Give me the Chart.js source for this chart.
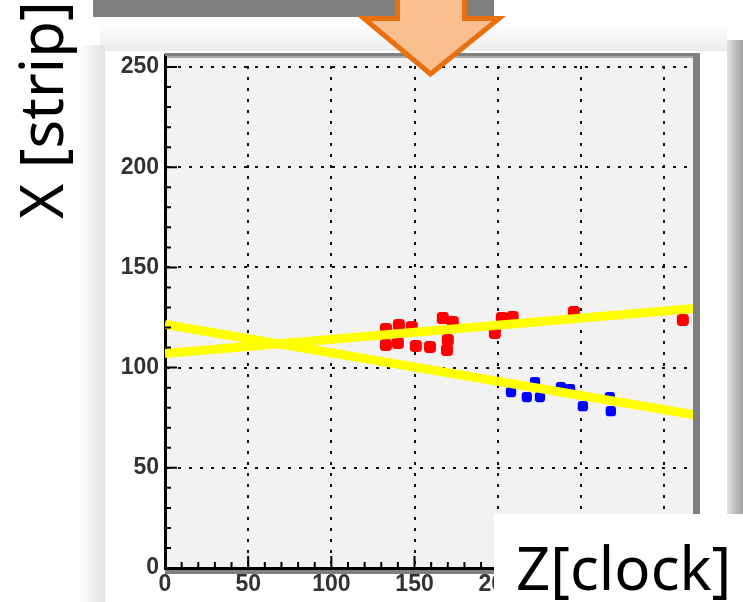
<!DOCTYPE html>
<html>
<head>
<meta charset="utf-8">
<script src="https://cdn.jsdelivr.net/npm/chart.js@4/dist/chart.umd.min.js"></script>
<style>
  html, body { margin: 0; padding: 0; width: 743px; height: 602px; overflow: hidden; background: #fff; }
  .abs { position: absolute; }
  #bar { left: 93px; top: 0; width: 401px; height: 17px; background: #7f7f7f; }
  #shadowTop { left: 100px; top: 22px; width: 627px; height: 29px; background: linear-gradient(to bottom, #fff, #ececec); }
  #shadowLeft { left: 77px; top: 45px; width: 28px; height: 557px; background: linear-gradient(to right, #fff, #e4e4e4); }
  #shadowRight { left: 727px; top: 40px; width: 16px; height: 562px; background: linear-gradient(to right, #e2e2e2, #a0a0a0); }
  #panel { left: 105px; top: 51px; width: 622px; height: 551px; background: #fff; }
  #covidCanvas { position: absolute; left: 0; top: 0; z-index: 2; }
  #ylabel { left: 0; top: 0; font-family: "Noto Sans"; font-size: 60px; line-height: 60px; white-space: nowrap;
            transform-origin: 0 0; transform: translate(10px, 219px) rotate(-90deg); color: #000; }
  #zbox { left: 494px; top: 514px; width: 249px; height: 88px; background: #fff; z-index: 3; }
  #zlabel { left: 516px; top: 537px; font-family: "Noto Sans"; font-size: 60px; line-height: 60px; white-space: nowrap; z-index: 4; color: #000; }
  #arrow { left: 0; top: 0; z-index: 5; }
</style>
</head>
<body>
<div class="abs" id="shadowTop"></div>
<div class="abs" id="shadowLeft"></div>
<div class="abs" id="shadowRight"></div>
<div class="abs" id="panel"></div>
<div class="abs" id="bar"></div>
<div class="abs" id="ylabel">X [strip]</div>
<canvas id="covidCanvas" width="743" height="602"></canvas>
<div class="abs" id="zbox"></div>
<div class="abs" id="zlabel">Z[clock]</div>
<svg class="abs" id="arrow" width="743" height="100">
  <polygon points="397.5,-5 464.5,-5 464.5,18.5 499,18.5 430.5,74 364,18.5 397.5,18.5"
           fill="#f9bf8f" stroke="#e9700f" stroke-width="5" stroke-linejoin="miter"/>
</svg>

<script>
// points (Z clock, X strip)
const redX = [132.8, 140.6, 148.4, 132.8, 140.0, 150.8, 159.3, 167.0, 173.0, 170.0, 169.5, 198.3, 202.5, 209.0, 245.8, 311.3];
const redY = [119.3, 121.3, 120.3, 111.3, 112.3, 110.8, 110.3, 124.7, 122.8, 113.8, 108.8, 117.3, 124.8, 125.2, 127.7, 123.8];
const blueX = [208.0, 222.4, 217.5, 225.4, 238.0, 243.5, 251.2, 267.4, 268.0];
const blueY = [87.8, 92.8, 85.3, 85.3, 90.3, 89.3, 80.8, 85.3, 78.3];

// straight-line fits
const fitX = [0, 318];
const fitUpY = [107, 129.5];
const fitDownY = [121.5, 76.5];

const xTicks = [0, 50, 100, 150, 200, 250, 300];
const yTicks = [0, 50, 100, 150, 200, 250];

const toPts = (xs, ys) => xs.map((x, i) => ({ x: x, y: ys[i] }));

// ROOT-like frame: grey panel, inner ticks, shadowed border
const rootFrame = {
  id: 'rootFrame',
  beforeDraw(chart) {
    const a = chart.chartArea, c = chart.ctx;
    c.save();
    c.fillStyle = '#f2f2f2';
    c.fillRect(a.left, a.top, a.right - a.left, a.bottom - a.top);
    c.restore();
  },
  afterDraw(chart) {
    const a = chart.chartArea, c = chart.ctx;
    const xs = chart.scales.x, ys = chart.scales.y;
    c.save();
    c.fillStyle = '#7f7f7f';
    c.fillRect(a.left, a.top - 2, a.right - a.left + 6, 3);
    c.fillStyle = '#a8a8a8';
    c.fillRect(a.left + 2, a.top + 1, a.right - a.left - 2, 2);
    c.fillStyle = '#7f7f7f';
    c.fillRect(a.right - 1, a.top - 2, 7, a.bottom - a.top + 7);
    c.fillRect(a.left, a.bottom + 2, a.right - a.left + 6, 4);
    c.strokeStyle = '#000';
    c.lineWidth = 2;
    c.beginPath();
    for (let v = 0; v <= 310; v += 10) {
      const px = xs.getPixelForValue(v);
      c.moveTo(px, a.bottom);
      c.lineTo(px, a.bottom - (v % 50 === 0 ? 12 : 6));
    }
    for (let v = 0; v <= 250; v += 10) {
      const py = ys.getPixelForValue(v);
      c.moveTo(a.left, py);
      c.lineTo(a.left + (v % 50 === 0 ? 12 : 6), py);
    }
    c.stroke();
    c.restore();
  }
};

const tickFont = { family: '"Liberation Sans"', size: 23, weight: 'bold' };

new Chart(document.getElementById('covidCanvas').getContext('2d'), {
  type: 'scatter',
  data: {
    datasets: [{
      label: 'red',
      data: toPts(redX, redY),
      backgroundColor: '#ff0000',
      borderWidth: 0,
      pointStyle: 'rectRounded',
      pointRadius: 7,
      order: 2
    }, {
      label: 'blue',
      data: toPts(blueX, blueY),
      backgroundColor: '#0000ff',
      borderWidth: 0,
      pointStyle: 'rectRounded',
      pointRadius: 6,
      order: 2
    }, {
      label: 'fit up',
      type: 'line',
      data: toPts(fitX, fitUpY),
      borderColor: '#ffff00',
      borderWidth: 9,
      pointRadius: 0,
      fill: false,
      order: 1
    }, {
      label: 'fit down',
      type: 'line',
      data: toPts(fitX, fitDownY),
      borderColor: '#ffff00',
      borderWidth: 9,
      pointRadius: 0,
      fill: false,
      order: 1
    }]
  },
  options: {
    responsive: false,
    animation: false,
    devicePixelRatio: 1,
    layout: { padding: { left: 100, top: 55, right: 49, bottom: 0 } },
    plugins: { legend: { display: false }, tooltip: { enabled: false } },
    scales: {
      x: {
        type: 'linear',
        min: 0,
        max: 318,
        afterFit: (axis) => { axis.height = 34; },
        afterBuildTicks: (axis) => { axis.ticks = xTicks.map(v => ({ value: v })); },
        ticks: { font: tickFont, color: '#333', padding: 3, maxRotation: 0, autoSkip: false },
        grid: { color: '#111', lineWidth: 2, drawTicks: false },
        border: { color: '#000', width: 3, dash: [3, 8] }
      },
      y: {
        type: 'linear',
        min: 0,
        max: 256,
        afterFit: (axis) => { axis.width = 65; },
        afterBuildTicks: (axis) => { axis.ticks = yTicks.map(v => ({ value: v })); },
        ticks: { font: tickFont, color: '#333', padding: 6, autoSkip: false },
        grid: { color: '#111', lineWidth: 2, drawTicks: false },
        border: { color: '#000', width: 3, dash: [3, 8] }
      }
    }
  },
  plugins: [rootFrame]
});
</script>
</body>
</html>
